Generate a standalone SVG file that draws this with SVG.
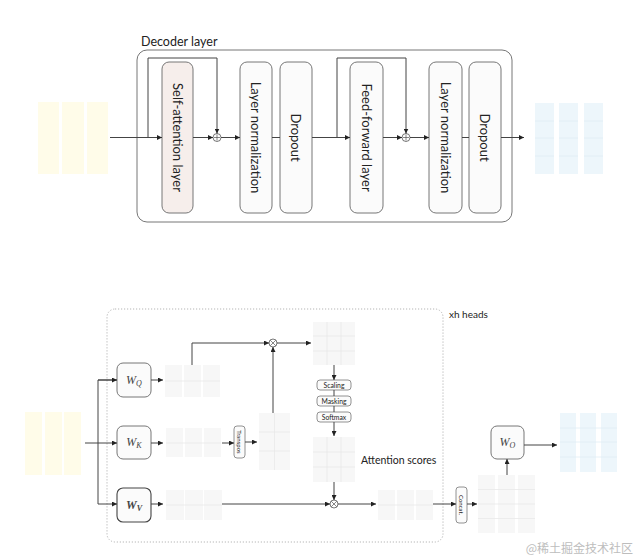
<svg xmlns="http://www.w3.org/2000/svg" width="640" height="560" viewBox="0 0 640 560">
<defs>
<marker id="ah" viewBox="0 0 6 6" refX="6" refY="3" markerWidth="5" markerHeight="5" orient="auto" markerUnits="userSpaceOnUse">
<path d="M0,0 L6,3 L0,6 Z" fill="#222"/>
</marker>
<style>
.ln{fill:none;stroke:#444;stroke-width:1;}
.box{fill:#fbfbfb;stroke:#777;stroke-width:1;}
.sbox{fill:#fbfbfb;stroke:#777;stroke-width:0.8;}
.t{font-family:Lato,"Liberation Sans",sans-serif;fill:#222;}
.w{font-family:"Liberation Serif",serif;font-style:italic;fill:#444;}
.my{fill:#fffce9;}
.mb{fill:#edf6fb;}
.mg{fill:#f7f7f7;}
.gl{stroke:#e8e8e8;stroke-width:0.8;fill:none;}
.gb{stroke:#dfedf5;stroke-width:0.8;fill:none;}
.op{fill:#fff;stroke:#555;stroke-width:0.8;}
</style>
</defs>

<!-- ===== Top: Decoder layer ===== -->
<g id="decoder-frame">
<rect x="137" y="50" width="375" height="172" rx="10" fill="none" stroke="#777" stroke-width="1"/>
<text class="t" x="141" y="46" font-size="12.5">Decoder layer</text>
</g>

<g id="input-top">
<rect class="my" x="38" y="102" width="21" height="72"/>
<rect class="my" x="62" y="102" width="22" height="72"/>
<rect class="my" x="87" y="102" width="21" height="72"/>
</g>

<g id="output-top">
<rect class="mb" x="535" y="103" width="19" height="71"/>
<rect class="mb" x="559" y="103" width="19" height="71"/>
<rect class="mb" x="584" y="103" width="19" height="71"/>
<path class="gb" d="M535,121 H554 M535,138 H554 M535,156 H554 M559,121 H578 M559,138 H578 M559,156 H578 M584,121 H603 M584,138 H603 M584,156 H603"/>
</g>

<g id="self-attention">
<rect x="162" y="62" width="31" height="151" rx="7" fill="#f6eeeb" stroke="#777"/>
<text class="t" font-size="13" text-anchor="middle" dominant-baseline="central" transform="translate(177.5,137.5) rotate(90)">Self-attention layer</text>
</g>
<g id="layernorm1">
<rect class="box" x="240" y="62" width="32" height="151" rx="7"/>
<text class="t" font-size="13" text-anchor="middle" dominant-baseline="central" transform="translate(256,137.5) rotate(90)">Layer normalization</text>
</g>
<g id="dropout1">
<rect class="box" x="280" y="62" width="32" height="151" rx="7"/>
<text class="t" font-size="13" text-anchor="middle" dominant-baseline="central" transform="translate(296,137.5) rotate(90)">Dropout</text>
</g>
<g id="feedforward">
<rect class="box" x="350" y="62" width="33" height="151" rx="7"/>
<text class="t" font-size="13" text-anchor="middle" dominant-baseline="central" transform="translate(366.5,137.5) rotate(90)">Feed-forward layer</text>
</g>
<g id="layernorm2">
<rect class="box" x="429" y="62" width="33" height="151" rx="7"/>
<text class="t" font-size="13" text-anchor="middle" dominant-baseline="central" transform="translate(445.5,137.5) rotate(90)">Layer normalization</text>
</g>
<g id="dropout2">
<rect class="box" x="469" y="62" width="32" height="151" rx="7"/>
<text class="t" font-size="13" text-anchor="middle" dominant-baseline="central" transform="translate(485,137.5) rotate(90)">Dropout</text>
</g>
<g id="add1">
<circle class="op" cx="217" cy="137.5" r="4"/>
<path d="M214,137.5 H220 M217,134.5 V140.5" stroke="#555" stroke-width="0.7"/>
</g>
<g id="add2">
<circle class="op" cx="406" cy="137.5" r="4"/>
<path d="M403,137.5 H409 M406,134.5 V140.5" stroke="#555" stroke-width="0.7"/>
</g>

<!-- ===== Bottom: Multi-head attention ===== -->
<g id="heads-frame">
<rect x="107" y="309" width="336" height="233" rx="8" fill="none" stroke="#b5b5b5" stroke-width="1" stroke-dasharray="1.2 1.8"/>
<text class="t" x="449" y="318" font-size="10">xh heads</text>
</g>

<g id="input-bottom">
<rect class="my" x="25" y="412" width="17" height="63"/>
<rect class="my" x="45" y="412" width="17" height="63"/>
<rect class="my" x="64" y="412" width="17" height="63"/>
</g>

<g id="WQ">
<rect class="box" x="117" y="363" width="34" height="34" rx="6"/>
<text class="w" x="134" y="384" font-size="12" text-anchor="middle">W<tspan font-size="8" dy="2">Q</tspan></text>
</g>
<g id="WK">
<rect class="box" x="117" y="426" width="34" height="33" rx="6"/>
<text class="w" x="134" y="446" font-size="12" text-anchor="middle">W<tspan font-size="8" dy="2">K</tspan></text>
</g>
<g id="WV">
<rect x="117" y="488" width="34" height="34" rx="6" fill="#fbfbfb" stroke="#444" stroke-width="1.1"/>
<text class="w" x="134" y="509" font-size="12" text-anchor="middle" font-weight="bold">W<tspan font-size="8" dy="2">V</tspan></text>
</g>

<g id="Q-matrix">
<rect class="mg" x="165" y="365" width="17" height="32"/>
<rect class="mg" x="184" y="365" width="17" height="32"/>
<rect class="mg" x="203" y="365" width="17" height="32"/>
<path class="gl" d="M165,381 H220"/>
</g>
<g id="K-matrix">
<rect class="mg" x="166" y="428" width="17" height="29"/>
<rect class="mg" x="185" y="428" width="17" height="29"/>
<rect class="mg" x="204" y="428" width="17" height="29"/>
<path class="gl" d="M166,443 H221"/>
</g>
<g id="V-matrix">
<rect class="mg" x="166" y="490" width="18" height="30"/>
<rect class="mg" x="185" y="490" width="18" height="30"/>
<rect class="mg" x="204" y="490" width="18" height="30"/>
<path class="gl" d="M166,505 H222"/>
</g>

<g id="transpose">
<rect class="sbox" x="234" y="426" width="11" height="32" rx="3"/>
<text class="t" font-size="6" text-anchor="middle" dominant-baseline="central" transform="translate(239.5,442) rotate(90)">Transpos</text>
</g>
<g id="KT-matrix">
<rect class="mg" x="259" y="413" width="31" height="57"/>
<path class="gl" d="M274.5,413 V470 M259,432 H290 M259,451 H290"/>
</g>

<g id="mult1">
<circle class="op" cx="273" cy="343" r="4"/>
<path d="M270.2,340.2 L275.8,345.8 M275.8,340.2 L270.2,345.8" stroke="#555" stroke-width="0.7"/>
</g>
<g id="QK-matrix">
<rect class="mg" x="313" y="322" width="42" height="43"/>
<path class="gl" d="M327,322 V365 M341,322 V365 M313,336 H355 M313,351 H355"/>
</g>

<g id="scaling">
<rect class="sbox" x="317" y="380" width="34" height="10" rx="3"/>
<text class="t" x="334" y="385" font-size="6.8" text-anchor="middle" dominant-baseline="central">Scaling</text>
</g>
<g id="masking">
<rect class="sbox" x="317" y="396" width="34" height="10" rx="3"/>
<text class="t" x="334" y="401" font-size="6.8" text-anchor="middle" dominant-baseline="central">Masking</text>
</g>
<g id="softmax">
<rect class="sbox" x="317" y="412" width="34" height="10" rx="3"/>
<text class="t" x="334" y="417" font-size="6.8" text-anchor="middle" dominant-baseline="central">Softmax</text>
</g>

<g id="attention-scores">
<rect class="mg" x="313" y="437" width="42" height="45"/>
<path class="gl" d="M327,437 V482 M341,437 V482 M313,452 H355 M313,467 H355"/>
<text class="t" x="361" y="464" font-size="10.5">Attention scores</text>
</g>

<g id="mult2">
<circle class="op" cx="334" cy="504" r="4"/>
<path d="M331.2,501.2 L336.8,506.8 M336.8,501.2 L331.2,506.8" stroke="#555" stroke-width="0.7"/>
</g>
<g id="head-output">
<rect class="mg" x="378" y="490" width="17" height="30"/>
<rect class="mg" x="397" y="490" width="17" height="30"/>
<rect class="mg" x="416" y="490" width="17" height="30"/>
<path class="gl" d="M378,505 H433"/>
</g>

<g id="concat">
<rect class="sbox" x="456" y="487" width="11" height="36" rx="3"/>
<text class="t" font-size="6" text-anchor="middle" dominant-baseline="central" transform="translate(461.5,505) rotate(90)">Concat.</text>
</g>
<g id="concat-matrix">
<rect class="mg" x="478" y="475" width="17" height="58"/>
<rect class="mg" x="498" y="475" width="17" height="58"/>
<rect class="mg" x="518" y="475" width="17" height="58"/>
<path class="gl" d="M478,489.5 H535 M478,504 H535 M478,518.5 H535"/>
</g>

<g id="WO">
<rect class="box" x="491" y="426" width="33" height="33" rx="6"/>
<text class="w" x="507.5" y="446" font-size="12" text-anchor="middle">W<tspan font-size="8" dy="2">O</tspan></text>
</g>

<g id="output-bottom">
<rect class="mb" x="560" y="413" width="16" height="59"/>
<rect class="mb" x="580" y="413" width="16" height="59"/>
<rect class="mb" x="601" y="413" width="16" height="59"/>
<path class="gb" d="M560,428 H617 M560,442 H617 M560,457 H617"/>
</g>

<!-- ===== Connectors ===== -->
<g id="connectors" class="ln">
<path d="M110,137.5 H162" marker-end="url(#ah)"/>
<path d="M148,137.5 V58 H217 V133.5" marker-end="url(#ah)"/>
<path d="M193,137.5 H213" marker-end="url(#ah)"/>
<path d="M221,137.5 H240" marker-end="url(#ah)"/>
<path d="M272,137.5 H280"/>
<path d="M312,137.5 H350" marker-end="url(#ah)"/>
<path d="M337,137.5 V58 H406 V133.5" marker-end="url(#ah)"/>
<path d="M383,137.5 H402" marker-end="url(#ah)"/>
<path d="M410,137.5 H429" marker-end="url(#ah)"/>
<path d="M462,137.5 H469"/>
<path d="M501,137.5 H524" marker-end="url(#ah)"/>
<path d="M85,443 H117" marker-end="url(#ah)"/>
<path d="M117,380 H98 V504 H117" marker-end="url(#ah)"/>
<path d="M98,380 H117" marker-end="url(#ah)"/>
<path d="M151,380 H163" marker-end="url(#ah)"/>
<path d="M151,443 H163" marker-end="url(#ah)"/>
<path d="M151,504 H163" marker-end="url(#ah)"/>
<path d="M192,365 V343 H269" marker-end="url(#ah)"/>
<path d="M222,443 H234" marker-end="url(#ah)"/>
<path d="M245,442 H257" marker-end="url(#ah)"/>
<path d="M273,413 V347" marker-end="url(#ah)"/>
<path d="M277,343 H311" marker-end="url(#ah)"/>
<path d="M334,365 V380" marker-end="url(#ah)"/>
<path d="M334,390 V396"/>
<path d="M334,406 V412"/>
<path d="M334,422 V436" marker-end="url(#ah)"/>
<path d="M334,482 V500" marker-end="url(#ah)"/>
<path d="M222,504 H330" marker-end="url(#ah)"/>
<path d="M338,504 H376" marker-end="url(#ah)"/>
<path d="M433,504 H456" marker-end="url(#ah)"/>
<path d="M467,504 H477" marker-end="url(#ah)"/>
<path d="M507,475 V459" marker-end="url(#ah)"/>
<path d="M524,445 H557" marker-end="url(#ah)"/>
</g>

<text x="633" y="553" font-family="'Noto Sans CJK SC',sans-serif" font-size="12" fill="#bdbdbd" text-anchor="end">@稀土掘金技术社区</text>
</svg>
